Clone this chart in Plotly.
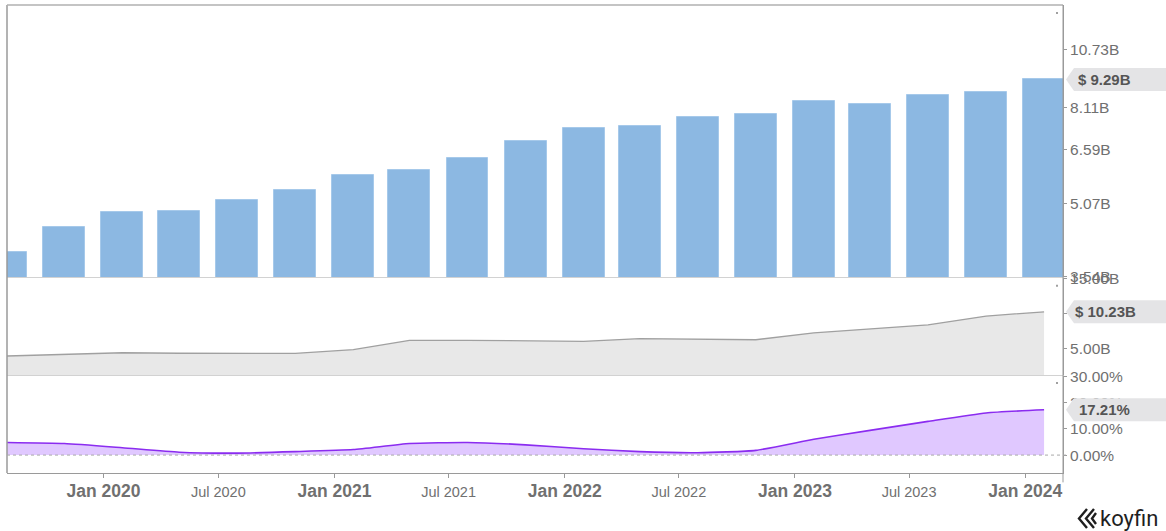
import math
import plotly.graph_objects as go

# ---------------- data ----------------
dates = ["2019-07-31", "2019-10-31", "2020-01-31", "2020-04-30", "2020-07-31",
         "2020-10-31", "2021-01-31", "2021-04-30", "2021-07-31", "2021-10-31",
         "2022-01-31", "2022-04-30", "2022-07-31", "2022-10-31", "2023-01-31",
         "2023-04-30", "2023-07-31", "2023-10-31", "2024-01-31"]
revenue_b = [4.00, 4.51, 4.85, 4.87, 5.15, 5.42, 5.82, 5.96, 6.34, 6.86,
             7.33, 7.41, 7.72, 7.84, 8.38, 8.25, 8.60, 8.72, 9.29]
ltm_b = [3.97, 4.19, 4.43, 4.36, 4.34, 4.35, 4.86, 6.19, 6.19, 6.17,
         6.05, 6.44, 6.37, 6.27, 7.26, 7.83, 8.39, 9.63, 10.23]
margin_pct = [4.8, 4.4, 2.8, 1.1, 0.75, 1.3, 2.1, 4.4, 4.8, 3.9,
              2.4, 1.3, 0.9, 1.8, 6.0, 9.4, 12.8, 16.0, 17.21]

x_tick_vals = ["2020-01-01", "2020-07-01", "2021-01-01", "2021-07-01", "2022-01-01",
               "2022-07-01", "2023-01-01", "2023-07-01", "2024-01-01"]
x_tick_text = ["Jan 2020", "Jul 2020", "Jan 2021", "Jul 2021", "Jan 2022",
               "Jul 2022", "Jan 2023", "Jul 2023", "Jan 2024"]

top_tick_vals = [3.54, 5.07, 6.59, 8.11, 10.73]
top_tick_text = ["3.54B", "5.07B", "6.59B", "8.11B", "10.73B"]
mid_tick_vals = [5, 10, 15]
mid_tick_text = ["5.00B", "", "15.00B"]
bot_tick_vals = [0, 10, 20, 30]
bot_tick_text = ["0.00%", "10.00%", "20.00%", "30.00%"]

badge_top = "$ 9.29B"
badge_mid = "$ 10.23B"
badge_bot = "17.21%"

# ---------------- styling ----------------
FONT = "Liberation Sans, Arial, sans-serif"
TICK_COL = "#707070"
BAR_COL = "#8cb8e2"
X_RANGE = ["2019-08-01", "2024-03-01"]
BAR_W = 66.5 * 86400000

ticktext_fmt = []
for t in x_tick_text:
    if t.startswith("Jan"):
        ticktext_fmt.append("<b>" + t + "</b>")
    else:
        ticktext_fmt.append("<span style='font-size:14.5px'>" + t + "</span>")

fig = go.Figure()
fig.add_trace(go.Bar(
    x=dates, y=revenue_b, xaxis="x", yaxis="y", width=BAR_W,
    marker=dict(color=BAR_COL, line=dict(color="#a6c9ea", width=1)),
    showlegend=False, hoverinfo="skip"))
fig.add_trace(go.Scatter(
    x=dates, y=ltm_b, xaxis="x2", yaxis="y2", mode="lines",
    line=dict(color="#a0a0a0", width=1.3), fill="tozeroy", fillcolor="#e8e8e8",
    showlegend=False, hoverinfo="skip"))
fig.add_trace(go.Scatter(
    x=dates, y=margin_pct, xaxis="x3", yaxis="y3", mode="lines",
    line=dict(color="#8b2cf0", width=1.6, shape="spline", smoothing=0.5),
    fill="tozeroy", fillcolor="#e0c8ff",
    showlegend=False, hoverinfo="skip"))

dom_top = [0.4188, 1.0]
dom_mid = [0.2094, 0.4167]
dom_bot = [0.0, 0.2073]

yfont = dict(family=FONT, size=15.5, color=TICK_COL)
common_y = dict(side="right", showgrid=False, zeroline=False, ticks="outside",
                ticklen=3, tickcolor="#999999", tickfont=yfont, automargin=False,
                showline=True, linecolor="#9a9a9a", linewidth=1, fixedrange=True)

fig.update_layout(
    template="none",
    width=1166, height=531,
    margin=dict(l=7, r=103, t=5, b=58, autoexpand=False),
    paper_bgcolor="white", plot_bgcolor="white",
    bargap=0,
    xaxis=dict(domain=[0, 1], anchor="y", range=X_RANGE, type="date", automargin=False,
               showticklabels=False, ticks="", showgrid=False,
               showline=True, linecolor="#d2d2d2", linewidth=1),
    xaxis2=dict(domain=[0, 1], anchor="y2", range=X_RANGE, type="date", matches="x",
                automargin=False, showticklabels=False, ticks="", showgrid=False,
                showline=True, linecolor="#d2d2d2", linewidth=1),
    xaxis3=dict(domain=[0, 1], anchor="y3", range=X_RANGE, type="date", matches="x",
                automargin=False,
                tickmode="array", tickvals=x_tick_vals, ticktext=ticktext_fmt,
                ticks="outside", ticklen=4, tickcolor="#999999", ticklabelstandoff=-2,
                tickfont=dict(family=FONT, size=17.5, color=TICK_COL),
                showgrid=False, showline=True, linecolor="#9a9a9a", linewidth=1),
    yaxis=dict(domain=dom_top, anchor="x", type="log",
               range=[math.log10(3.535), math.log10(13.37)],
               tickmode="array", tickvals=top_tick_vals, ticktext=top_tick_text,
               **common_y),
    yaxis2=dict(domain=dom_mid, anchor="x2", range=[1.28, 15.02],
                tickmode="array", tickvals=mid_tick_vals, ticktext=mid_tick_text,
                **common_y),
    yaxis3=dict(domain=dom_bot, anchor="x3", range=[-6.8, 30.05],
                tickmode="array", tickvals=bot_tick_vals, ticktext=bot_tick_text,
                **common_y),
)

shapes = []
# frame lines
shapes.append(dict(type="line", xref="paper", yref="paper", x0=0, x1=0, y0=0, y1=1,
                   line=dict(color="#9a9a9a", width=1.5), layer="above"))
shapes.append(dict(type="line", xref="paper", yref="paper", x0=0, x1=1, y0=1, y1=1,
                   line=dict(color="#b0b0b0", width=1.5), layer="above"))
shapes.append(dict(type="line", xref="paper", yref="paper", x0=1, x1=1, y0=-0.02, y1=1,
                   line=dict(color="#9a9a9a", width=1), layer="above"))
# zero reference (dotted)
shapes.append(dict(type="line", xref="paper", yref="y3", x0=0, x1=1.003, y0=0, y1=0,
                   line=dict(color="#aaaaaa", width=1, dash="dot"), layer="above"))

# small corner dots of each panel
for yref_dom, yv in [("paper", 0.983), ("paper", 0.4003), ("paper", 0.1922)]:
    shapes.append(dict(type="rect", xref="paper", yref=yref_dom,
                       xsizemode="pixel", ysizemode="pixel", xanchor=1, yanchor=yv,
                       x0=-7, x1=-5, y0=-1, y1=1,
                       fillcolor="#a0a0a0", line=dict(width=0), layer="above"))

badge_path = "M 3,0 L 11,11.5 L 103,11.5 L 103,-11.5 L 11,-11.5 Z"
for yref, val in [("y", revenue_b[-1]), ("y2", ltm_b[-1]), ("y3", margin_pct[-1])]:
    shapes.append(dict(type="path", xref="paper", xsizemode="pixel", xanchor=1,
                       yref=yref, ysizemode="pixel", yanchor=val, path=badge_path,
                       fillcolor="#e4e4e6", line=dict(width=0), layer="above"))

# koyfin logo chevrons (decorative)
logo = ("M 24,-36 L 16,-45.5 L 24,-55 "
        "M 31,-36 L 23,-45.5 L 31,-55 "
        "M 33,-40 L 29,-45.5 L 33,-51")
shapes.append(dict(type="path", xref="paper", xsizemode="pixel", xanchor=1,
                   yref="paper", ysizemode="pixel", yanchor=0, path=logo,
                   line=dict(color="#1f1f1f", width=2.4), layer="above"))

fig.update_layout(shapes=shapes)

bfont = dict(family=FONT, size=15, color="#555555")
annotations = [
    dict(xref="paper", yref="y", x=1, y=math.log10(revenue_b[-1]), xanchor="left",
         yanchor="middle", xshift=13, text="<b>" + badge_top + "</b>",
         showarrow=False, font=bfont),
    dict(xref="paper", yref="y2", x=1, y=ltm_b[-1], xanchor="left",
         yanchor="middle", xshift=10, text="<b>" + badge_mid + "</b>",
         showarrow=False, font=bfont),
    dict(xref="paper", yref="y3", x=1, y=margin_pct[-1], xanchor="left",
         yanchor="middle", xshift=14, text="<b>" + badge_bot + "</b>",
         showarrow=False, font=bfont),
    dict(xref="paper", yref="paper", x=1, y=0, xanchor="left", yanchor="middle",
         xshift=35, yshift=-45, text="koyfin", showarrow=False,
         font=dict(family="Roboto, sans-serif", size=22, color="#1f1f1f")),
]
fig.update_layout(annotations=annotations)

fig.write_html("out.html")
